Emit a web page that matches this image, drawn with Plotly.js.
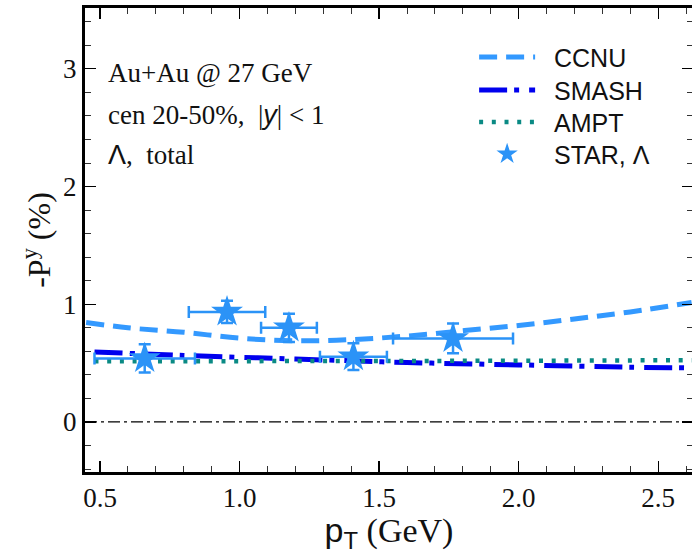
<!DOCTYPE html>
<html>
<head>
<meta charset="utf-8">
<script src="https://cdn.plot.ly/plotly-3.0.1.min.js"></script>
<style>
  html, body { margin: 0; padding: 0; background: #fff; overflow: hidden; }
  #chart { width: 696px; height: 554px; }
</style>
</head>
<body>
<div id="chart"></div>
<script>
// Model curves of -P^y (%) vs p_T (GeV)
const ccnuPt  = [0.45, 0.6, 0.8, 1.0, 1.2, 1.4, 1.6, 1.8, 2.0, 2.2, 2.4, 2.62];
const ccnuPy  = [0.845, 0.80, 0.762, 0.712, 0.69, 0.70, 0.73, 0.775, 0.82, 0.875, 0.935, 1.015];

const smashPt = [0.48, 0.8, 1.2, 1.6, 2.0, 2.4, 2.62];
const smashPy = [0.595, 0.565, 0.535, 0.505, 0.485, 0.465, 0.46];

const amptPt  = [0.48, 1.0, 1.5, 2.0, 2.62];
const amptPy  = [0.515, 0.515, 0.518, 0.52, 0.525];

// STAR Lambda measurement
const starPt    = [0.66, 0.955, 1.177, 1.408, 1.765];
const starPy    = [0.54, 0.935, 0.80, 0.555, 0.71];
const starPyErr = [0.12, 0.095, 0.12, 0.113, 0.127];
const starPtErr = [0.18, 0.137, 0.10, 0.12, 0.215];

const zeroPt = [0.446, 2.625];
const zeroPy = [0, 0];

const xTicks = [0.5, 1.0, 1.5, 2.0, 2.5];
const xTickText = ['0.5', '1.0', '1.5', '2.0', '2.5'];
const yTicks = [0, 1, 2, 3];

const seriesNames = ['CCNU', 'SMASH', 'AMPT', 'STAR, Λ'];

const serif = 'Liberation Serif, Times New Roman, serif';
const sans = 'Liberation Sans, Arial, sans-serif';
const pad = '\u00a0\u00a0';

const traces = [
  {
    x: zeroPt, y: zeroPy, mode: 'lines', showlegend: false, hoverinfo: 'skip',
    line: { color: '#000000', width: 1.3, dash: '12px,4px,3px,4px' }
  },
  {
    x: ccnuPt, y: ccnuPy, mode: 'lines', name: pad + seriesNames[0], legend: 'legend',
    line: { color: '#3399ff', width: 5, dash: '18px,9px', shape: 'spline' }
  },
  {
    x: smashPt, y: smashPy, mode: 'lines', name: pad + seriesNames[1], legend: 'legend2',
    line: { color: '#0000ee', width: 5, dash: '28px,7px,5px,10px', shape: 'spline' }
  },
  {
    x: amptPt, y: amptPy, mode: 'lines', name: pad + seriesNames[2], legend: 'legend3',
    line: { color: '#0a8a84', width: 4.5, dash: '4px,8.7px' }
  },
  {
    x: starPt, y: starPy, mode: 'markers', name: pad + seriesNames[3], legend: 'legend4',
    marker: { symbol: 'star', size: 24, color: '#2b93f7', line: { width: 0 } },
    error_y: { type: 'data', array: starPyErr, visible: true, color: '#2b93f7', thickness: 2.5, width: 6 },
    error_x: { type: 'data', array: starPtErr, visible: true, color: '#2b93f7', thickness: 2.5, width: 6 }
  }
];

const axisCommon = {
  showline: true, linecolor: '#000', linewidth: 3, mirror: 'ticks',
  ticks: 'inside', ticklen: 11, tickwidth: 1.2, tickcolor: '#000',
  showgrid: false, zeroline: false,
  tickfont: { family: serif, size: 27, color: '#111' },
  minor: { ticks: 'inside', ticklen: 6, tickwidth: 1, tickcolor: '#333', showgrid: false }
};

// one single-entry legend per series so the rows sit at fixed heights
function legendAt(y) {
  return {
    x: 0.64, y: y, xanchor: 'left', yanchor: 'middle',
    bgcolor: 'rgba(0,0,0,0)', borderwidth: 0,
    font: { family: sans, size: 25, color: '#111' },
    itemwidth: 56, tracegroupgap: 0
  };
}

const layout = {
  width: 696, height: 554,
  margin: { l: 85, r: 3, t: 8, b: 82 },
  paper_bgcolor: '#fff', plot_bgcolor: '#fff',
  xaxis: Object.assign({}, axisCommon, {
    range: [0.446, 2.625],
    tickvals: xTicks, ticktext: xTickText,
    minor: Object.assign({}, axisCommon.minor, { dtick: 0.1, tick0: 0 }),
    title: { text: '<span style="font-family:Liberation Sans">p<sub>T</sub></span> (GeV)', font: { family: serif, size: 34, color: '#111' }, standoff: 0 }
  }),
  yaxis: Object.assign({}, axisCommon, {
    range: [-0.425, 3.517],
    tickvals: yTicks,
    minor: Object.assign({}, axisCommon.minor, { dtick: 0.2, tick0: 0 }),
    title: { text: '-P<sup>y</sup> (%)', font: { family: serif, size: 32, color: '#111' }, standoff: 3 }
  }),
  legend: legendAt(0.894),
  legend2: legendAt(0.823),
  legend3: legendAt(0.754),
  legend4: legendAt(0.685),
  annotations: [
    { xref: 'paper', yref: 'paper', x: 0.035, y: 0.86, xanchor: 'left', yanchor: 'middle', showarrow: false,
      text: 'Au+Au @ 27 GeV', font: { family: serif, size: 27, color: '#111' } },
    { xref: 'paper', yref: 'paper', x: 0.035, y: 0.769, xanchor: 'left', yanchor: 'middle', showarrow: false,
      text: 'cen 20-50%,  |<i style="font-family:Liberation Sans">y</i>| &lt; 1', font: { family: serif, size: 27, color: '#111' } },
    { xref: 'paper', yref: 'paper', x: 0.035, y: 0.683, xanchor: 'left', yanchor: 'middle', showarrow: false,
      text: '<span style="font-family:Liberation Sans">Λ</span>,  total', font: { family: serif, size: 27, color: '#111' } }
  ],
  showlegend: true
};

Plotly.newPlot('chart', traces, layout, { staticPlot: true, displayModeBar: false });
</script>
</body>
</html>
